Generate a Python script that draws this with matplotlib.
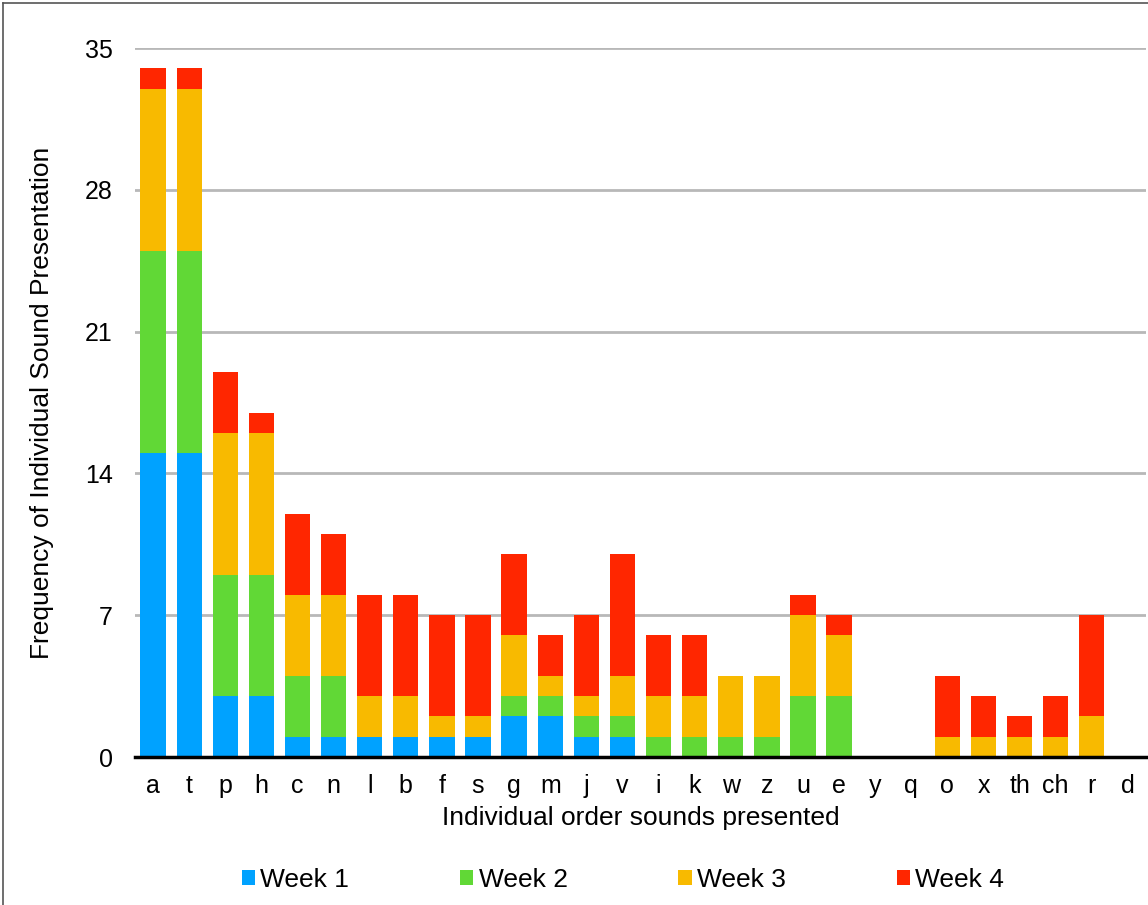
import numpy as np
import matplotlib.pyplot as plt
from matplotlib.lines import Line2D
from matplotlib.patches import Patch

sounds = ['a', 't', 'p', 'h', 'c', 'n', 'l', 'b', 'f', 's', 'g', 'm', 'j', 'v',
          'i', 'k', 'w', 'z', 'u', 'e', 'y', 'q', 'o', 'x', 'th', 'ch', 'r', 'd']
week1 = [15, 15, 3, 3, 1, 1, 1, 1, 1, 1, 2, 2, 1, 1, 0, 0, 0, 0, 0, 0, 0, 0, 0, 0, 0, 0, 0, 0]
week2 = [10, 10, 6, 6, 3, 3, 0, 0, 0, 0, 1, 1, 1, 1, 1, 1, 1, 1, 3, 3, 0, 0, 0, 0, 0, 0, 0, 0]
week3 = [8, 8, 7, 7, 4, 4, 2, 2, 1, 1, 3, 1, 1, 2, 2, 2, 3, 3, 4, 3, 0, 0, 1, 1, 1, 1, 2, 0]
week4 = [1, 1, 3, 1, 4, 3, 5, 5, 5, 5, 4, 2, 4, 6, 3, 3, 0, 0, 1, 1, 0, 0, 3, 2, 1, 2, 5, 0]
yticks = [0, 7, 14, 21, 28, 35]

series = [('Week 1', week1, '#00A2FF'),
          ('Week 2', week2, '#61D836'),
          ('Week 3', week3, '#F8BA00'),
          ('Week 4', week4, '#FF2600')]

plt.rcParams['font.family'] = ['Liberation Sans', 'DejaVu Sans']

fig = plt.figure(figsize=(11.48, 9.05), dpi=100)
ax = fig.add_axes([135 / 1148, 148 / 905, 1011 / 1148, 709 / 905])

x = np.arange(len(sounds))
bottom = np.zeros(len(sounds))
for name, vals, col in series:
    vals = np.array(vals, dtype=float)
    ax.bar(x, vals, 0.7, bottom=bottom, color=col, label=name, zorder=3)
    bottom += vals

ax.set_xlim(-0.5, len(sounds) - 0.5)
ax.set_ylim(0, 35)
ax.set_yticks(yticks)
ax.set_xticks(x)
ax.set_xticklabels(sounds)
ax.tick_params(axis='both', length=0, labelsize=18)
ax.tick_params(axis='x', pad=12)
ax.tick_params(axis='y', pad=16)
ax.yaxis.grid(True, color='#b8b8b8', linewidth=2, zorder=0)
ax.set_axisbelow(True)
for s in ['left', 'right', 'top']:
    ax.spines[s].set_visible(False)
ax.spines['bottom'].set_linewidth(2.5)
ax.spines['bottom'].set_zorder(4)

ax.set_xlabel('Individual order sounds presented', fontsize=19, labelpad=6)
ax.set_ylabel('Frequency of Individual Sound Presentation', fontsize=19, labelpad=22)

handles = [Patch(facecolor=c, edgecolor='none') for _, _, c in series]
fig.legend(handles, [n for n, _, _ in series], loc='center', ncol=4,
           bbox_to_anchor=(623 / 1148, 1 - 880 / 905), frameon=False, fontsize=19,
           handlelength=0.5, handleheight=0.5, handletextpad=0.2, columnspacing=4.2)

# figure frame (left and top edges visible)
fig.add_artist(Line2D([3 / 1148, 3 / 1148], [0, 1 - 3 / 905], transform=fig.transFigure,
                      color='#555555', linewidth=1.2))
fig.add_artist(Line2D([3 / 1148, 1], [1 - 3 / 905, 1 - 3 / 905], transform=fig.transFigure,
                      color='#555555', linewidth=1.2))

fig.savefig('out.png', dpi=100)
